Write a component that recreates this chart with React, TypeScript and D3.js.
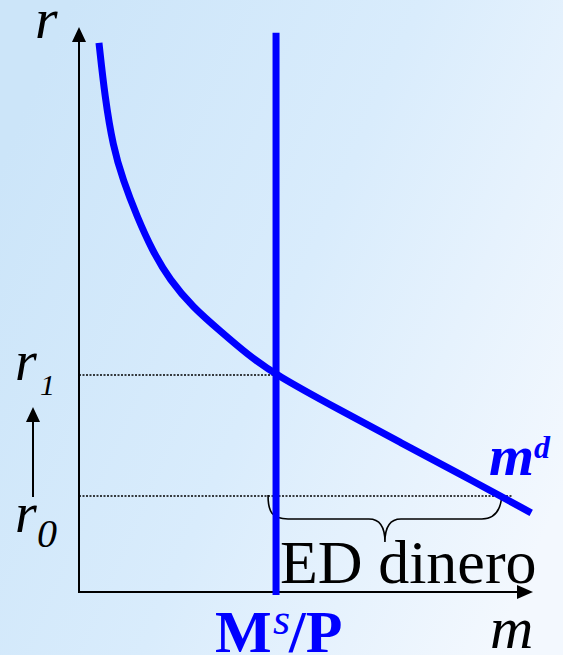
import React from "react";
import * as d3 from "d3";

// Money demand curve m^d: (real money m, interest rate r), in axis units 0..100
const demandM = [4.4, 5.7, 7.5, 9.7, 12.8, 16.1, 20.0, 25.1, 31.1, 37.0, 43.4, 57.5, 70.7, 83.9, 99.6];
const demandR = [97.2, 87.6, 78.8, 72.9, 66.4, 60.5, 55.2, 50.4, 46.2, 42.1, 38.4, 32.2, 26.5, 20.9, 14.0];

// Real money supply Ms/P (vertical line) and its top
const supplyM = [43.4];
const supplyTop = [99];

// Interest rates marked on the vertical axis
const rateLabels = ["1", "0"];
const rateValues = [38.4, 17.0];

// Quantity demanded at r0 (right end of the excess-demand brace)
const demandAtR0 = [92.7];

const W = 563;
const H = 655;
const BLUE = "#0000ff";
const SERIF = '"Liberation Serif", "DejaVu Serif", serif';

export default function App() {
  const x = d3.scaleLinear().domain([0, 100]).range([79, 533]);
  const y = d3.scaleLinear().domain([0, 100]).range([592, 27]);

  const pts: [number, number][] = demandM.map((m, i) => [m, demandR[i]]);
  const line = d3
    .line<[number, number]>()
    .x((d) => x(d[0]))
    .y((d) => y(d[1]))
    .curve(d3.curveBasis);

  const x0 = x(0);
  const yAxis = y(0);
  const ms = x(supplyM[0]);
  const r1y = y(rateValues[0]);
  const r0y = y(rateValues[1]);
  const mdR0 = x(demandAtR0[0]);

  // brace under the r0 line, from Ms/P to the demand curve
  const bL = ms - 8;
  const bR = mdR0 + 2;
  const bMid = (bL + bR) / 2;
  const bTop = r0y - 1;
  const bBar = r0y + 23;
  const bTip = r0y + 46;
  const brace = [
    `M${bL},${bTop}`,
    `C${bL},${bBar - 7} ${bL + 4},${bBar} ${bL + 20},${bBar}`,
    `L${bMid - 16},${bBar}`,
    `C${bMid - 5},${bBar} ${bMid},${bBar + 9} ${bMid},${bTip}`,
    `C${bMid},${bBar + 9} ${bMid + 5},${bBar} ${bMid + 16},${bBar}`,
    `L${bR - 20},${bBar}`,
    `C${bR - 7},${bBar} ${bR - 1},${bBar - 9} ${bR},${bTop}`,
  ].join(" ");

  const yTip = y(100);
  const xTip = x(100);
  const txt = { fontFamily: SERIF };

  return (
    <svg
      width={W}
      height={H}
      style={{ position: "absolute", left: 0, top: 0, display: "block", fontFamily: SERIF }}
    >
      <defs>
        <linearGradient id="bg" x1="0" y1="0.25" x2="1" y2="0.75">
          <stop offset="0" stopColor="#cce5f9" />
          <stop offset="0.5" stopColor="#d9ecfc" />
          <stop offset="1" stopColor="#f3f8fe" />
        </linearGradient>
      </defs>
      <rect width={W} height={H} fill="url(#bg)" />

      {/* dotted guides at r1 and r0 */}
      <line x1={x0} x2={ms} y1={r1y} y2={r1y} stroke="#000" strokeWidth={1.5} strokeDasharray="2,1.5" />
      <line x1={x0} x2={mdR0 + 13} y1={r0y} y2={r0y} stroke="#000" strokeWidth={1.5} strokeDasharray="2,1.5" />

      {/* axes */}
      <line x1={x0} x2={x0} y1={yAxis} y2={yTip + 14} stroke="#000" strokeWidth={2} />
      <path d={`M${x0},${yTip} L${x0 - 7},${yTip + 15} L${x0 + 7},${yTip + 15} Z`} fill="#000" />
      <line x1={x0 - 1} x2={xTip - 14} y1={yAxis} y2={yAxis} stroke="#000" strokeWidth={2} />
      <path d={`M${xTip},${yAxis} L${xTip - 16},${yAxis - 7} L${xTip - 16},${yAxis + 7} Z`} fill="#000" />

      {/* brace */}
      <path d={brace} fill="none" stroke="#000" strokeWidth={1.6} />

      {/* money supply */}
      <line x1={ms} x2={ms} y1={y(supplyTop[0])} y2={yAxis + 3} stroke={BLUE} strokeWidth={7} />

      {/* money demand */}
      <path d={line(pts) || ""} fill="none" stroke={BLUE} strokeWidth={7} />

      {/* axis labels */}
      <text style={txt} x={35} y={38} fontSize={58} fontStyle="italic">r</text>
      <text style={txt} x={490} y={648} fontSize={60} fontStyle="italic">m</text>

      {/* rate labels */}
      <text style={txt} x={15} y={380} fontSize={56} fontStyle="italic">r</text>
      <text style={txt} x={40} y={395} fontSize={30} fontStyle="italic">{rateLabels[0]}</text>
      <text style={txt} x={15} y={532} fontSize={56} fontStyle="italic">r</text>
      <text style={txt} x={37} y={547} fontSize={40} fontStyle="italic">{rateLabels[1]}</text>

      {/* r0 -> r1 arrow */}
      <line x1={33} x2={33} y1={497} y2={421} stroke="#000" strokeWidth={2} />
      <path d="M33,407 L26,422 L40,422 Z" fill="#000" />

      <text style={txt} x={280} y={583} fontSize={62}>ED dinero</text>

      {/* Ms/P */}
      <text style={txt} x={215} y={652} fontSize={60} fontWeight="bold" fill={BLUE}>M</text>
      <text style={txt} x={273} y={634} fontSize={44} fontStyle="italic" fill={BLUE}>s</text>
      <text style={txt} x={289} y={652} fontSize={60} fontWeight="bold" fill={BLUE}>/P</text>

      {/* m^d */}
      <text style={txt} x={489} y={475} fontSize={58} fontWeight="bold" fontStyle="italic" fill={BLUE}>m</text>
      <text style={txt} x={534} y={458} fontSize={32} fontWeight="bold" fontStyle="italic" fill={BLUE}>d</text>
    </svg>
  );
}
